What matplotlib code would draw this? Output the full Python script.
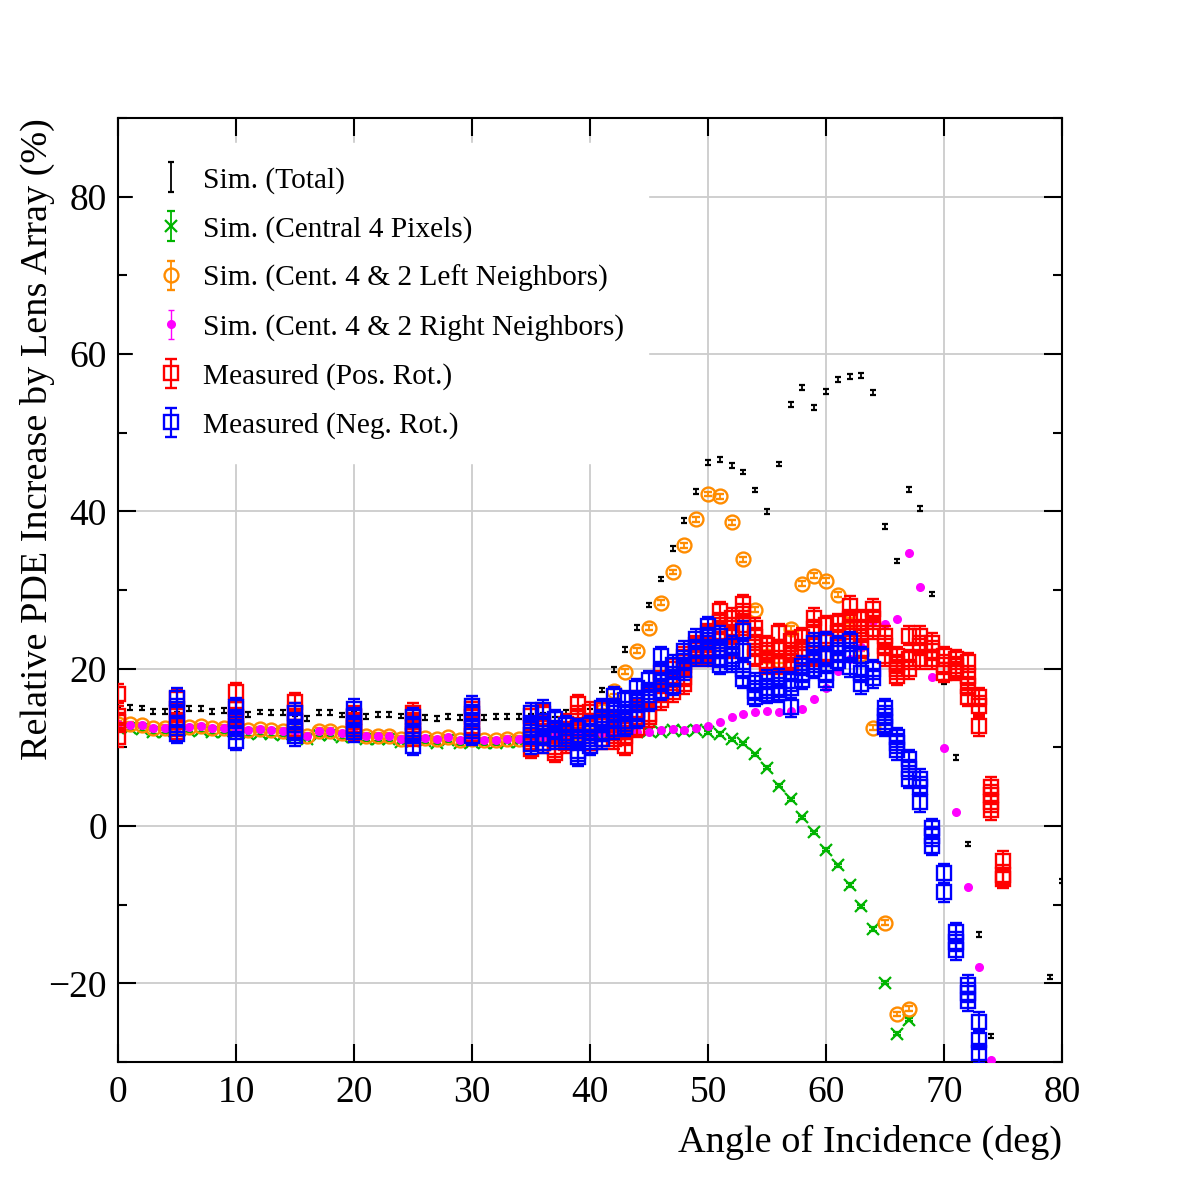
import numpy as np
import matplotlib
matplotlib.use("Agg")
import matplotlib.pyplot as plt
from matplotlib.ticker import MultipleLocator

# ---------------- data ----------------
total_angles = list(range(0, 75)) + [79, 80]
total_vals = [15.3, 15.1, 15.0, 14.6, 14.6, 14.8, 14.9, 14.9, 14.6, 14.7,
              14.5, 14.2, 14.5, 14.4, 14.4, 14.3, 13.7, 14.4, 14.4, 14.1,
              14.2, 13.9, 14.2, 14.2, 14.0, 13.9, 13.8, 13.7, 13.9, 13.8,
              13.9, 13.8, 13.9, 13.9, 13.9, 14.0, 14.1, 14.2, 14.4, 14.5,
              14.6, 17.3, 19.9, 22.4, 25.2, 28.1, 31.4, 35.3, 38.8, 42.5,
              46.2, 46.6, 45.8, 45.0, 42.7, 40.0, 46.0, 53.6, 55.7, 53.2,
              55.2, 56.8, 57.1, 57.3, 55.1, 38.1, 33.7, 42.8, 40.4, 29.5,
              18.3, 8.7, -2.3, -13.8, -26.7, -19.2, -7.0]

central_angles = list(range(0, 68))
central_vals = [12.5, 12.4, 12.3, 11.9, 12.0, 12.1, 12.1, 12.2, 11.9, 12.0,
                11.9, 11.7, 11.8, 11.7, 11.6, 11.5, 11.1, 11.6, 11.6, 11.3,
                11.3, 11.0, 11.0, 11.0, 10.7, 10.8, 10.8, 10.6, 10.9, 10.5,
                10.7, 10.5, 10.5, 10.7, 10.7, 11.0, 11.0, 11.2, 11.3, 11.5,
                11.6, 11.7, 11.8, 12.0, 11.9, 12.1, 12.0, 12.2, 12.1, 12.2,
                11.9, 11.7, 11.0, 10.5, 9.1, 7.4, 5.1, 3.4, 1.1, -0.8,
                -3.0, -5.0, -7.5, -10.2, -13.1, -19.9, -26.4, -24.6]

left_angles = list(range(0, 68))
left_vals = [13.0, 12.95, 12.8, 12.4, 12.5, 12.6, 12.6, 12.7, 12.4, 12.5,
             12.4, 12.2, 12.3, 12.2, 12.1, 12.0, 11.5, 12.1, 12.1, 11.8,
             11.8, 11.5, 11.5, 11.5, 11.1, 11.2, 11.2, 11.0, 11.3, 10.9,
             11.1, 10.9, 10.9, 11.1, 11.1, 11.3, 11.2, 11.3, 11.5, 11.8,
             12.6, 14.6, 17.1, 19.6, 22.3, 25.2, 28.4, 32.3, 35.7, 39.0,
             42.2, 41.9, 38.6, 33.9, 27.5, 21.6, 21.0, 25.1, 30.8, 31.8,
             31.2, 29.4, 26.1, 21.9, 12.5, -12.3, -23.9, -23.2]

right_angles = list(range(0, 75))
right_vals = [13.0, 12.9, 12.8, 12.4, 12.5, 12.6, 12.6, 12.7, 12.4, 12.5,
              12.3, 12.2, 12.3, 12.2, 12.1, 12.0, 11.5, 12.1, 12.1, 11.8,
              11.8, 11.5, 11.5, 11.5, 11.1, 11.2, 11.2, 11.0, 11.3, 10.9,
              11.1, 10.9, 10.9, 11.1, 11.1, 11.2, 11.3, 11.4, 11.5, 11.6,
              11.7, 11.8, 11.8, 11.9, 11.9, 12.0, 12.2, 12.3, 12.2, 12.4,
              12.7, 13.2, 13.8, 14.3, 14.5, 14.6, 14.5, 14.6, 14.9, 16.1,
              17.5, 19.7, 21.2, 22.8, 26.1, 25.7, 26.3, 34.7, 30.4, 18.9,
              9.9, 1.8, -7.7, -17.9, -29.8]

pos_angles = [0, 5, 10, 15, 20, 25, 30] + list(range(35, 76))
pos_vals = [
    [16.8, 14.0, 13.2, 11.3], [16.1, 14.4, 13.2, 12.3], [17.0, 14.9, 13.8, 12.7],
    [15.7, 14.4, 13.4, 12.3], [14.0, 13.2, 12.4, 12.0], [14.4, 13.2, 12.1, 11.4],
    [14.9, 13.8, 12.7, 11.7],
    [14.0, 12.5, 11.0, 9.8], [14.2, 12.8, 11.5, 10.5], [12.0, 11.0, 10.0, 9.3],
    [13.0, 12.0, 11.2, 10.5], [15.5, 14.0, 12.5, 11.2], [14.5, 13.0, 11.8, 10.5],
    [14.8, 13.2, 12.0, 11.0], [13.5, 12.5, 11.8, 11.0], [13.0, 12.2, 11.5, 10.2],
    [16.0, 14.8, 13.8, 12.5], [16.5, 14.2, 13.8], [19.5, 18.5, 17.0, 16.0],
    [20.0, 18.5, 17.0], [21.5, 20.5, 19.0, 18.0], [23.0, 22.0, 21.5],
    [24.5, 23.0, 22.0, 21.5], [27.3, 25.9, 24.6, 23.5], [26.5, 25.2, 24.0, 22.5],
    [28.2, 27.0, 25.5], [25.2, 24.0, 22.8, 21.5], [23.0, 22.0, 21.0, 20.5],
    [24.5, 22.5, 21.0, 20.5], [23.5, 22.0, 21.0, 20.5], [24.0, 22.5, 21.5],
    [26.5, 25.0, 23.0, 21.5], [25.5, 23.5, 22.0, 21.5], [25.8, 24.5, 23.0],
    [28.0, 26.3, 25.0], [26.3, 25.0, 23.7, 22.5], [27.6, 26.3, 25.0],
    [24.2, 22.9, 21.6], [21.6, 20.6, 19.9, 19.1], [24.2, 21.2, 19.9],
    [24.2, 22.9, 21.2], [23.3, 22.3, 21.2], [21.6, 20.5, 19.5],
    [21.2, 20.3, 19.7], [20.8, 19.1, 17.8, 16.4], [16.4, 15.3, 12.7],
    [5.0, 4.0, 3.0, 2.0], [-4.4, -6.2, -6.7],
]

neg_angles = [5, 10, 15, 20, 25, 30] + list(range(35, 74))
neg_vals = [
    [16.3, 14.9, 12.8, 11.7], [15.1, 13.6, 12.3, 10.8], [14.4, 13.2, 12.1, 11.4],
    [14.9, 13.8, 12.7, 11.9], [13.8, 12.7, 11.7, 10.2], [15.3, 14.2, 12.4, 11.5],
    [14.4, 12.8, 11.6, 10.4], [14.8, 13.0, 11.5, 10.5], [13.6, 12.2, 11.0],
    [12.8, 11.8, 11.0], [12.4, 11.0, 9.5, 8.8], [12.8, 11.8, 11.0, 10.2],
    [15.0, 13.6, 12.0, 11.0], [16.5, 15.0, 13.6, 12.3], [16.0, 14.5, 13.3, 12.6],
    [17.5, 16.0, 14.5, 13.6], [18.5, 17.0, 15.8], [21.6, 19.6, 18.3, 17.2],
    [20.5, 19.0, 17.8], [22.3, 21.0, 19.8], [23.8, 22.5, 21.6],
    [25.4, 24.0, 22.5, 21.6], [24.2, 22.5, 21.4, 20.5], [22.9, 21.6, 20.8],
    [24.8, 22.3, 20.0, 18.7], [18.2, 17.2, 16.4], [18.6, 17.5, 16.8],
    [18.7, 17.6, 16.9], [18.4, 17.5, 15.1], [20.4, 19.5, 18.6],
    [23.3, 22.0, 20.8, 20.0], [23.5, 21.5, 19.5, 18.5], [23.0, 22.0, 21.0],
    [23.5, 22.0, 20.2], [21.6, 19.5, 18.0], [19.9, 18.8],
    [15.0, 14.0, 13.2, 12.6], [11.3, 10.5, 9.6], [8.5, 7.2, 6.0],
    [6.0, 5.0, 3.0], [-0.3, -1.3, -2.5], [-6.0, -8.4],
    [-13.5, -14.7, -15.8], [-20.2, -21.2, -22.3], [-24.9, -27.2, -28.9],
]

legend_labels = ["Sim. (Total)", "Sim. (Central 4 Pixels)",
                 "Sim. (Cent. 4 & 2 Left Neighbors)",
                 "Sim. (Cent. 4 & 2 Right Neighbors)",
                 "Measured (Pos. Rot.)", "Measured (Neg. Rot.)"]

# ---------------- style ----------------
plt.rcParams['font.family'] = ['Liberation Serif', 'DejaVu Serif']

GREEN = '#00b400'
ORANGE = '#ff8c00'
MAGENTA = '#ff00ff'

fig = plt.figure(figsize=(11.82, 11.82), dpi=100)
ax = fig.add_axes([118 / 1182, 1 - 1062 / 1182, 944 / 1182, 944 / 1182])


def flatten(angles, vals):
    xs, ys = [], []
    for a, vs in zip(angles, vals):
        for v in vs:
            xs.append(a)
            ys.append(v)
    return np.array(xs, float), np.array(ys, float)


h_total = ax.errorbar(total_angles, total_vals, yerr=0.3, fmt='none',
                      ecolor='black', elinewidth=1.3, capsize=2.5,
                      capthick=1.6, zorder=3)
h_cent = ax.errorbar(central_angles, central_vals, yerr=0.2, fmt='x',
                     color=GREEN, ms=9, mew=1.6, elinewidth=1.3,
                     capsize=3, capthick=1.3, zorder=3)
h_left = ax.errorbar(left_angles, left_vals, yerr=0.3, fmt='o',
                     mfc='none', mec=ORANGE, color=ORANGE, ms=10, mew=1.7,
                     elinewidth=1.3, capsize=3, capthick=1.3, zorder=3)
h_right = ax.errorbar(right_angles, right_vals, yerr=0.2, fmt='o',
                      color=MAGENTA, mfc=MAGENTA, mec=MAGENTA, ms=5.5,
                      elinewidth=1.0, capsize=2, capthick=1.0, zorder=3)

px, py = flatten(pos_angles, pos_vals)
nx, ny = flatten(neg_angles, neg_vals)
h_pos = ax.errorbar(px, py, yerr=1.2, fmt='s', mfc='none', mec='#ff0000',
                    color='#ff0000', ms=10, mew=1.7, elinewidth=1.6,
                    capsize=4, capthick=1.6, zorder=4)
h_neg = ax.errorbar(nx, ny, yerr=1.2, fmt='s', mfc='none', mec='#0000ff',
                    color='#0000ff', ms=10, mew=1.7, elinewidth=1.6,
                    capsize=4, capthick=1.6, zorder=5)

ax.set_xlim(0, 80)
ax.set_ylim(-30, 90)
ax.xaxis.set_major_locator(MultipleLocator(10))
ax.yaxis.set_major_locator(MultipleLocator(20))
ax.yaxis.set_minor_locator(MultipleLocator(10))
ax.grid(True, which='major', color='#cccccc', lw=1.3)
ax.set_axisbelow(True)
ax.tick_params(which='both', direction='in', top=True, right=True,
               labelsize=27, width=1.5)
ax.tick_params(which='major', length=13)
ax.tick_params(which='minor', length=6.5)
ax.tick_params(axis='x', pad=10)
ax.tick_params(axis='y', pad=8)
for s in ax.spines.values():
    s.set_linewidth(1.5)

ax.set_xlabel("Angle of Incidence (deg)", fontsize=27.5, loc='right', labelpad=10)
ax.set_ylabel("Relative PDE Increase by Lens Array (%)", fontsize=27.5,
              loc='top', labelpad=-5)

leg = ax.legend([h_total, h_cent, h_left, h_right, h_pos, h_neg], legend_labels,
                loc='upper left', bbox_to_anchor=(0.0, 0.989),
                fontsize=21.2, frameon=True, fancybox=False,
                framealpha=1, facecolor='white', edgecolor='white',
                handlelength=1.0, handletextpad=0.6, labelspacing=0.75,
                borderpad=0.8)
leg.set_zorder(10)

fig.savefig("out.png", dpi=100)
